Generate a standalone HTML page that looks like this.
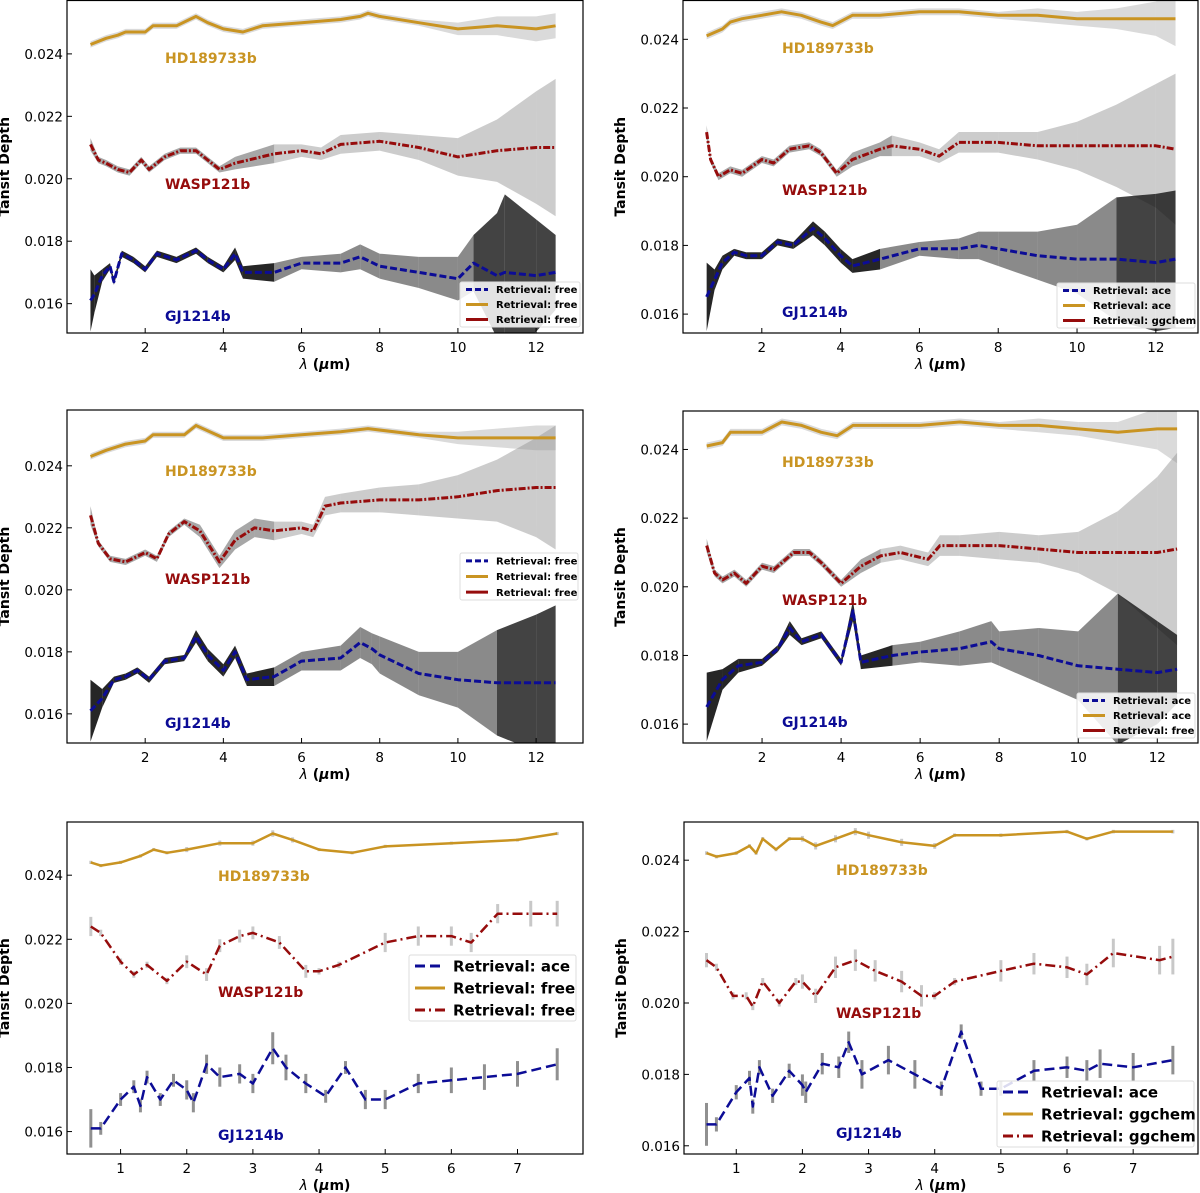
<!DOCTYPE html>
<html><head><meta charset="utf-8">
<style>
html,body{margin:0;padding:0;background:#fff;}
svg{display:block;font-family:"DejaVu Sans","Liberation Sans",sans-serif;}
</style></head>
<body>
<svg id="fig" width="1200" height="1193" viewBox="0 0 1200 1193" xmlns="http://www.w3.org/2000/svg"></svg>
<script>
// ---------------- DATA ----------------
// Top-left panel
const tlHdX=[0.6,1.0,1.3,1.5,2.0,2.2,2.8,3.3,3.6,4.0,4.5,5.0,6.0,7.0,7.5,7.7,8.0,9.0,10.0,11.0,12.0,12.5];
const tlHdY=[0.0243,0.0245,0.0246,0.0247,0.0247,0.0249,0.0249,0.0252,0.0250,0.0248,0.0247,0.0249,0.0250,0.0251,0.0252,0.0253,0.0252,0.0250,0.0248,0.0249,0.0248,0.0249];
const tlHdE=[0.0001,0.0001,0.0001,0.0001,0.0001,0.0001,0.0001,0.0001,0.0001,0.0001,0.0001,0.0001,0.0001,0.0001,0.0001,0.0001,0.0001,0.0001,0.0002,0.0003,0.0004,0.0004];
const tlWaX=[0.6,0.8,1.0,1.3,1.6,1.9,2.1,2.5,2.9,3.3,3.6,3.9,4.3,5.3,6.0,6.5,7.0,8.0,9.0,10.0,11.0,12.0,12.5];
const tlWaY=[0.0211,0.0206,0.0205,0.0203,0.0202,0.0206,0.0203,0.0207,0.0209,0.0209,0.0206,0.0203,0.0205,0.0208,0.0209,0.0208,0.0211,0.0212,0.0210,0.0207,0.0209,0.0210,0.0210];
const tlWaE=[0.0002,0.0001,0.0001,0.0001,0.0001,0.0001,0.0001,0.0001,0.0001,0.0001,0.0001,0.0001,0.0002,0.0003,0.0002,0.0002,0.0003,0.0003,0.0004,0.0006,0.0010,0.0018,0.0022];
const tlGjX=[0.6,0.7,0.9,1.1,1.2,1.4,1.7,2.0,2.3,2.8,3.3,3.6,4.0,4.3,4.5,5.3,6.0,7.0,7.5,8.0,9.0,10.0,10.4,11.0,11.2,12.0,12.5];
const tlGjY=[0.0161,0.0163,0.0169,0.0172,0.0167,0.0176,0.0174,0.0171,0.0176,0.0174,0.0177,0.0174,0.0171,0.0176,0.0170,0.0170,0.0173,0.0173,0.0175,0.0172,0.0170,0.0168,0.0173,0.0169,0.0170,0.0169,0.0170];
const tlGjE=[0.0010,0.0006,0.0002,0.0001,0.0001,0.0001,0.0001,0.0001,0.0001,0.0001,0.0001,0.0001,0.0001,0.0002,0.0002,0.0003,0.0002,0.0003,0.0004,0.0004,0.0005,0.0007,0.0009,0.0020,0.0025,0.0018,0.0012];
// Top-right panel
const trHdX=[0.6,1.0,1.2,1.5,2.0,2.5,3.0,3.5,3.8,4.3,5.0,6.0,7.0,8.0,9.0,10.0,11.0,12.0,12.5];
const trHdY=[0.0241,0.0243,0.0245,0.0246,0.0247,0.0248,0.0247,0.0245,0.0244,0.0247,0.0247,0.0248,0.0248,0.0247,0.0247,0.0246,0.0246,0.0246,0.0246];
const trHdE=[0.0001,0.0001,0.0001,0.0001,0.0001,0.0001,0.0001,0.0001,0.0001,0.0001,0.0001,0.0001,0.0001,0.0001,0.0002,0.0002,0.0003,0.0005,0.0008];
const trWaX=[0.6,0.7,0.9,1.2,1.5,2.0,2.3,2.7,3.2,3.5,3.9,4.3,5.0,5.3,6.0,6.5,7.0,8.0,9.0,10.0,11.0,12.0,12.5];
const trWaY=[0.0213,0.0205,0.0200,0.0202,0.0201,0.0205,0.0204,0.0208,0.0209,0.0207,0.0201,0.0205,0.0208,0.0209,0.0208,0.0206,0.0210,0.0210,0.0209,0.0209,0.0209,0.0209,0.0208];
const trWaE=[0.0002,0.0001,0.0001,0.0001,0.0001,0.0001,0.0001,0.0001,0.0001,0.0001,0.0001,0.0002,0.0002,0.0003,0.0002,0.0002,0.0003,0.0003,0.0004,0.0007,0.0012,0.0018,0.0022];
const trGjX=[0.6,0.8,1.0,1.3,1.6,2.0,2.4,2.8,3.3,3.6,4.0,4.3,5.0,6.0,7.0,7.5,8.0,9.0,10.0,11.0,12.0,12.5];
const trGjY=[0.0165,0.0170,0.0175,0.0178,0.0177,0.0177,0.0181,0.0180,0.0185,0.0182,0.0177,0.0174,0.0176,0.0179,0.0179,0.0180,0.0179,0.0177,0.0176,0.0176,0.0175,0.0176];
const trGjE=[0.0010,0.0003,0.0002,0.0001,0.0001,0.0001,0.0001,0.0001,0.0002,0.0002,0.0002,0.0002,0.0003,0.0002,0.0003,0.0004,0.0005,0.0007,0.0010,0.0018,0.0020,0.0020];
// Middle-left panel
const mlHdX=[0.6,1.0,1.5,2.0,2.2,3.0,3.3,4.0,5.0,6.0,7.0,7.7,9.0,10.0,11.0,12.0,12.5];
const mlHdY=[0.0243,0.0245,0.0247,0.0248,0.0250,0.0250,0.0253,0.0249,0.0249,0.0250,0.0251,0.0252,0.0250,0.0249,0.0249,0.0249,0.0249];
const mlHdE=[0.0001,0.0001,0.0001,0.0001,0.0001,0.0001,0.0001,0.0001,0.0001,0.0001,0.0001,0.0001,0.0001,0.0002,0.0003,0.0004,0.0004];
const mlWaX=[0.6,0.8,1.1,1.5,2.0,2.3,2.6,3.0,3.4,3.9,4.3,4.8,5.3,6.0,6.3,6.6,7.0,8.0,9.0,10.0,11.0,12.0,12.5];
const mlWaY=[0.0224,0.0215,0.0210,0.0209,0.0212,0.0210,0.0218,0.0222,0.0219,0.0209,0.0216,0.0220,0.0219,0.0220,0.0219,0.0227,0.0228,0.0229,0.0229,0.0230,0.0232,0.0233,0.0233];
const mlWaE=[0.0003,0.0001,0.0001,0.0001,0.0001,0.0001,0.0001,0.0001,0.0002,0.0002,0.0003,0.0003,0.0003,0.0002,0.0002,0.0003,0.0003,0.0004,0.0005,0.0007,0.0010,0.0016,0.0020];
const mlGjX=[0.6,0.9,1.2,1.5,1.8,2.1,2.5,3.0,3.3,3.6,4.0,4.3,4.6,5.3,6.0,7.0,7.5,7.8,8.0,9.0,10.0,11.0,12.0,12.5];
const mlGjY=[0.0161,0.0165,0.0171,0.0172,0.0174,0.0171,0.0177,0.0178,0.0185,0.0179,0.0174,0.0180,0.0171,0.0172,0.0177,0.0178,0.0183,0.0181,0.0179,0.0173,0.0171,0.0170,0.0170,0.0170];
const mlGjE=[0.0010,0.0003,0.0001,0.0001,0.0001,0.0001,0.0001,0.0001,0.0002,0.0002,0.0002,0.0002,0.0002,0.0003,0.0003,0.0004,0.0005,0.0005,0.0006,0.0007,0.0009,0.0017,0.0022,0.0025];
// Middle-right panel
const mrHdX=[0.6,1.0,1.2,1.5,2.0,2.5,3.0,3.5,3.9,4.3,5.0,6.0,7.0,8.0,9.0,10.0,11.0,12.0,12.5];
const mrHdY=[0.0241,0.0242,0.0245,0.0245,0.0245,0.0248,0.0247,0.0245,0.0244,0.0247,0.0247,0.0247,0.0248,0.0247,0.0247,0.0246,0.0245,0.0246,0.0246];
const mrHdE=[0.0001,0.0001,0.0001,0.0001,0.0001,0.0001,0.0001,0.0001,0.0001,0.0001,0.0001,0.0001,0.0001,0.0001,0.0002,0.0002,0.0003,0.0006,0.0010];
const mrWaX=[0.6,0.8,1.0,1.3,1.6,2.0,2.3,2.8,3.2,3.5,4.0,4.5,5.0,5.5,6.2,6.5,7.0,8.0,9.0,10.0,11.0,12.0,12.5];
const mrWaY=[0.0212,0.0204,0.0202,0.0204,0.0201,0.0206,0.0205,0.0210,0.0210,0.0207,0.0201,0.0206,0.0209,0.0210,0.0208,0.0212,0.0212,0.0212,0.0211,0.0210,0.0210,0.0210,0.0211];
const mrWaE=[0.0002,0.0001,0.0001,0.0001,0.0001,0.0001,0.0001,0.0001,0.0001,0.0001,0.0001,0.0002,0.0002,0.0002,0.0002,0.0003,0.0003,0.0004,0.0004,0.0006,0.0012,0.0022,0.0028];
const mrGjX=[0.6,1.0,1.4,2.0,2.4,2.7,3.0,3.5,4.0,4.3,4.5,5.3,6.0,7.0,7.8,8.0,9.0,10.0,11.0,12.0,12.5];
const mrGjY=[0.0165,0.0173,0.0177,0.0178,0.0182,0.0188,0.0184,0.0186,0.0178,0.0193,0.0178,0.0180,0.0181,0.0182,0.0184,0.0182,0.0180,0.0177,0.0176,0.0175,0.0176];
const mrGjE=[0.0010,0.0003,0.0002,0.0001,0.0001,0.0002,0.0001,0.0001,0.0001,0.0003,0.0002,0.0003,0.0003,0.0005,0.0006,0.0005,0.0008,0.0010,0.0022,0.0015,0.0010];
// Bottom-left panel
const blHdX=[0.55,0.7,1.0,1.3,1.5,1.7,2.0,2.5,3.0,3.3,3.6,4.0,4.5,5.0,6.0,7.0,7.6];
const blHdY=[0.0244,0.0243,0.0244,0.0246,0.0248,0.0247,0.0248,0.0250,0.0250,0.0253,0.0251,0.0248,0.0247,0.0249,0.0250,0.0251,0.0253];
const blHdE=[0.00005,0.00005,0.00005,0.00005,0.00005,0.00005,0.00008,0.00008,0.00008,0.0001,0.00008,0.00005,0.00005,0.00005,0.00005,0.00005,0.00005];
const blWaX=[0.55,0.7,1.0,1.2,1.4,1.7,2.0,2.3,2.5,2.8,3.0,3.4,3.8,4.0,4.3,5.0,5.5,6.0,6.3,6.7,7.2,7.6];
const blWaY=[0.0224,0.0222,0.0213,0.0209,0.0212,0.0207,0.0213,0.0209,0.0218,0.0221,0.0222,0.0219,0.0210,0.0210,0.0212,0.0219,0.0221,0.0221,0.0219,0.0228,0.0228,0.0228];
const blWaE=[0.0003,0.0001,0.0001,0.0001,0.0001,0.0001,0.0002,0.0002,0.0002,0.0002,0.0002,0.0002,0.0002,0.0001,0.0001,0.0003,0.0003,0.0003,0.0003,0.0003,0.0004,0.0004];
const blGjX=[0.55,0.7,1.0,1.2,1.3,1.4,1.6,1.8,2.0,2.1,2.3,2.5,2.8,3.0,3.3,3.5,3.8,4.1,4.4,4.7,5.0,5.5,6.0,6.5,7.0,7.6];
const blGjY=[0.0161,0.0161,0.0170,0.0174,0.0168,0.0177,0.0170,0.0176,0.0173,0.0169,0.0181,0.0177,0.0178,0.0175,0.0186,0.0180,0.0175,0.0171,0.0180,0.0170,0.0170,0.0175,0.0176,0.0177,0.0178,0.0181];
const blGjE=[0.0006,0.0002,0.0002,0.0002,0.0002,0.0002,0.0002,0.0002,0.0003,0.0003,0.0003,0.0003,0.0003,0.0003,0.0005,0.0004,0.0003,0.0002,0.0002,0.0003,0.0003,0.0003,0.0004,0.0004,0.0004,0.0005];
// Bottom-right panel
const brHdX=[0.55,0.7,1.0,1.2,1.3,1.4,1.6,1.8,2.0,2.2,2.5,2.8,3.0,3.5,4.0,4.3,5.0,6.0,6.3,6.7,7.6];
const brHdY=[0.0242,0.0241,0.0242,0.0244,0.0242,0.0246,0.0243,0.0246,0.0246,0.0244,0.0246,0.0248,0.0247,0.0245,0.0244,0.0247,0.0247,0.0248,0.0246,0.0248,0.0248];
const brHdE=[0.00005,0.00005,0.00005,0.00005,0.00005,0.00005,0.00005,0.00005,0.00008,0.0001,0.0001,0.0001,0.0001,0.0001,0.00008,0.00005,0.00005,0.00005,0.00005,0.00005,0.00005];
const brWaX=[0.55,0.7,0.95,1.15,1.25,1.4,1.65,1.9,2.0,2.2,2.5,2.8,3.1,3.5,3.8,4.0,4.3,5.0,5.5,6.0,6.3,6.7,7.4,7.6];
const brWaY=[0.0212,0.0210,0.0202,0.0202,0.0199,0.0206,0.0200,0.0206,0.0206,0.0202,0.0210,0.0212,0.0209,0.0206,0.0202,0.0202,0.0206,0.0209,0.0211,0.0210,0.0208,0.0214,0.0212,0.0213];
const brWaE=[0.0002,0.0001,0.0001,0.0001,0.0001,0.0001,0.0001,0.0001,0.0002,0.0002,0.0003,0.0003,0.0003,0.0003,0.0003,0.0001,0.0001,0.0003,0.0003,0.0003,0.0003,0.0004,0.0004,0.0005];
const brGjX=[0.55,0.7,1.0,1.2,1.25,1.35,1.55,1.8,2.0,2.05,2.3,2.55,2.7,2.9,3.3,3.7,4.1,4.4,4.7,5.0,5.5,6.0,6.3,6.5,7.0,7.6];
const brGjY=[0.0166,0.0166,0.0175,0.0179,0.0171,0.0182,0.0174,0.0181,0.0177,0.0175,0.0183,0.0182,0.0189,0.0180,0.0184,0.0180,0.0176,0.0192,0.0176,0.0176,0.0181,0.0182,0.0181,0.0183,0.0182,0.0184];
const brGjE=[0.0006,0.0002,0.0002,0.0002,0.0002,0.0002,0.0002,0.0002,0.0003,0.0003,0.0003,0.0003,0.0003,0.0004,0.0004,0.0004,0.0002,0.0002,0.0002,0.0002,0.0003,0.0003,0.0003,0.0004,0.0004,0.0004];

const yTickVals=[0.016,0.018,0.020,0.022,0.024];
const yTickLabels=["0.016","0.018","0.020","0.022","0.024"];
const xTickValsWide=[2,4,6,8,10,12];
const xTickValsNarrow=[1,2,3,4,5,6,7];

// ---------------- DRAW ----------------
const NS="http://www.w3.org/2000/svg";
const fig=document.getElementById('fig');
const GOLD="#c99422", NAVY="#0c0c96", RED="#960c0c";
function mk(tag,attrs,parent){const e=document.createElementNS(NS,tag);for(const k in attrs)e.setAttribute(k,attrs[k]);(parent||fig).appendChild(e);return e;}

const panels=[
 {id:'top-left',L:67,R:583,T:0.5,B:333,xl:[0,13.2],yl:[0.01506,0.02571],xt:xTickValsWide,band:true,
  s:[[tlHdX,tlHdY,tlHdE],[tlWaX,tlWaY,tlWaE],[tlGjX,tlGjY,tlGjE]],
  lab:[[165,58],[165,184],[165,316]],leg:{x:460,y:282,w:120,h:45,fs:10,t:["Retrieval: free","Retrieval: free","Retrieval: free"],dd:false}},
 {id:'top-right',L:683,R:1198,T:0.5,B:333,xl:[0,13.07],yl:[0.01545,0.02513],xt:xTickValsWide,band:true,
  s:[[trHdX,trHdY,trHdE],[trWaX,trWaY,trWaE],[trGjX,trGjY,trGjE]],
  lab:[[782,48],[782,190],[782,312]],leg:{x:1057,y:283,w:138,h:45,fs:10,t:["Retrieval: ace","Retrieval: ace","Retrieval: ggchem"],dd:false}},
 {id:'middle-left',L:67,R:583,T:410,B:743,xl:[0,13.2],yl:[0.01506,0.0258],xt:xTickValsWide,band:true,
  s:[[mlHdX,mlHdY,mlHdE],[mlWaX,mlWaY,mlWaE],[mlGjX,mlGjY,mlGjE]],
  lab:[[165,471],[165,579],[165,723]],leg:{x:460,y:553,w:118,h:47,fs:10,t:["Retrieval: free","Retrieval: free","Retrieval: free"],dd:false}},
 {id:'middle-right',L:683,R:1198,T:411,B:743,xl:[0,13.03],yl:[0.01545,0.02512],xt:xTickValsWide,band:true,
  s:[[mrHdX,mrHdY,mrHdE],[mrWaX,mrWaY,mrWaE],[mrGjX,mrGjY,mrGjE]],
  lab:[[782,462],[782,600],[782,722]],leg:{x:1077,y:693,w:118,h:45,fs:10,t:["Retrieval: ace","Retrieval: ace","Retrieval: free"],dd:false}},
 {id:'bottom-left',L:67,R:583,T:822,B:1154,xl:[0.19,7.99],yl:[0.0153,0.02566],xt:xTickValsNarrow,band:false,
  s:[[blHdX,blHdY,blHdE],[blWaX,blWaY,blWaE],[blGjX,blGjY,blGjE]],
  lab:[[218,876],[218,992],[218,1135]],leg:{x:409,y:955,w:167,h:66,fs:15,t:["Retrieval: ace","Retrieval: free","Retrieval: free"],dd:true}},
 {id:'bottom-right',L:684,R:1198,T:822,B:1154,xl:[0.21,7.98],yl:[0.01577,0.02507],xt:xTickValsNarrow,band:false,
  s:[[brHdX,brHdY,brHdE],[brWaX,brWaY,brWaE],[brGjX,brGjY,brGjE]],
  lab:[[836,870],[836,1013],[836,1133]],leg:{x:997,y:1081,w:197,h:66,fs:15,t:["Retrieval: ace","Retrieval: ggchem","Retrieval: ggchem"],dd:true}}
];
const names=['HD189733b','WASP121b','GJ1214b'];
const cols=[GOLD,RED,NAVY];
const slug=['hd189733b','wasp121b','gj1214b'];

panels.forEach(p=>{
  const g=mk('g',{});
  
  
  const sx=v=>p.L+(v-p.xl[0])/(p.xl[1]-p.xl[0])*(p.R-p.L);
  const sy=v=>p.B-(v-p.yl[0])/(p.yl[1]-p.yl[0])*(p.B-p.T);
  const cid='clip-'+p.id;
  const cp=mk('clipPath',{id:cid},g);mk('rect',{x:p.L,y:p.T,width:p.R-p.L,height:p.B-p.T},cp);
  const plot=mk('g',{'clip-path':'url(#'+cid+')'},g);
  
  
  // uncertainty
  const order=[1,2,0];
  order.forEach(si=>{
    const [X,Y,E]=p.s[si];
    if(p.band){
      for(let i=0;i<X.length-1;i++){
        let fill;
        if(si===2) fill = X[i+1]<=5.4 ? 'rgba(0,0,0,0.85)' : (X[i]>=10.2?'rgba(20,20,20,0.8)':'rgba(60,60,60,0.6)');
        else if(si===1) fill = X[i+1]<=5.4 ? 'rgba(60,60,60,0.45)':'rgba(120,120,120,0.38)';
        else fill='rgba(150,150,150,0.35)';
        const pts=[[sx(X[i]),sy(Y[i]+E[i])],[sx(X[i+1]),sy(Y[i+1]+E[i+1])],[sx(X[i+1]),sy(Y[i+1]-E[i+1])],[sx(X[i]),sy(Y[i]-E[i])]];
        const pg=mk('polygon',{points:pts.map(q=>q.join(',')).join(' '),fill:fill,stroke:'none'},plot);
        
        
      }
    } else {
      for(let i=0;i<X.length;i++){
        const ln=mk('line',{x1:sx(X[i]),x2:sx(X[i]),y1:sy(Y[i]-E[i]),y2:sy(Y[i]+E[i]),stroke:si===2?'#909090':'#c8c8c8','stroke-width':3},plot);
        
        
      }
    }
  });
  // lines
  [0,1,2].forEach(si=>{
    const [X,Y]=p.s[si];
    const d=X.map((x,i)=>(i?'L':'M')+sx(x).toFixed(1)+','+sy(Y[i]).toFixed(1)).join('');
    const dash= si===0?'none': si===2?(p.band?'7,3':'10,5'):(p.band?'7,2,2,2':'10,4,2,4');
    const path=mk('path',{d:d,fill:'none',stroke:cols[si],'stroke-width':p.band?3:2.5,'stroke-dasharray':dash,'stroke-linejoin':'round'},plot);
    
    
  });
  // frame
  const fr=mk('rect',{x:p.L,y:p.T,width:p.R-p.L,height:p.B-p.T,fill:'none',stroke:'#000','stroke-width':1.2},g);
  
  
  // y ticks
  yTickVals.forEach((v,i)=>{
    const y=sy(v);
    mk('line',{x1:p.L,x2:p.L+5,y1:y,y2:y,stroke:'#000','stroke-width':1},g);
    const t=mk('text',{x:p.L-4,y:y+5,'text-anchor':'end','font-size':13.5,fill:'#000'},g);
    t.textContent=yTickLabels[i];
    
    
  });
  p.xt.forEach(v=>{
    const x=sx(v);
    mk('line',{x1:x,x2:x,y1:p.B,y2:p.B-5,stroke:'#000','stroke-width':1},g);
    const t=mk('text',{x:x,y:p.B+19,'text-anchor':'middle','font-size':13.5,fill:'#000'},g);
    t.textContent=String(v);
    
    
  });
  // axis titles
  const xt=mk('text',{x:(p.L+p.R)/2,y:p.B+36,'text-anchor':'middle','font-size':14,'font-weight':'bold',fill:'#000'},g);
  xt.innerHTML='<tspan font-style="italic" font-weight="normal">λ</tspan> (<tspan font-style="italic">μ</tspan>m)';
  
  
  const ycx=p.L-58, ycy=(p.T+p.B)/2;
  const yt=mk('text',{x:ycx,y:ycy,'text-anchor':'middle','font-size':14,'font-weight':'bold',fill:'#000',transform:'rotate(-90 '+ycx+' '+ycy+')'},g);
  yt.textContent='Tansit Depth';
  
  
  // planet labels
  p.lab.forEach((l,si)=>{
    const t=mk('text',{x:l[0],y:l[1]+5,'font-size':14,'font-weight':'bold',fill:cols[si]},g);
    t.textContent=names[si];
    
    
  });
  // legend
  const L=p.leg;
  const lg=mk('g',{},g);
  
  
  mk('rect',{x:L.x,y:L.y,width:L.w,height:L.h,fill:'rgba(255,255,255,0.85)',stroke:'#ddd','stroke-width':1,rx:2},lg);
  const rowH=L.h/3;
  const legCols=[NAVY,GOLD,RED];
  L.t.forEach((txt,i)=>{
    const cy=L.y+rowH*(i+0.5);
    const lw=L.fs>12?30:22;
    const dash= i===0?(L.fs>12?'10,5':'6,3'): i===2&&L.dd?'10,4,2,4':'none';
    const e=mk('g',{},lg);
    
    
    mk('line',{x1:L.x+6,x2:L.x+6+lw,y1:cy,y2:cy,stroke:legCols[i],'stroke-width':L.fs>12?3:3,'stroke-dasharray':dash},e);
    const t=mk('text',{x:L.x+14+lw,y:cy+L.fs*0.36,'font-size':L.fs,'font-weight':'bold',fill:'#000'},e);
    t.textContent=txt;
  });
});
</script>
</body></html>
